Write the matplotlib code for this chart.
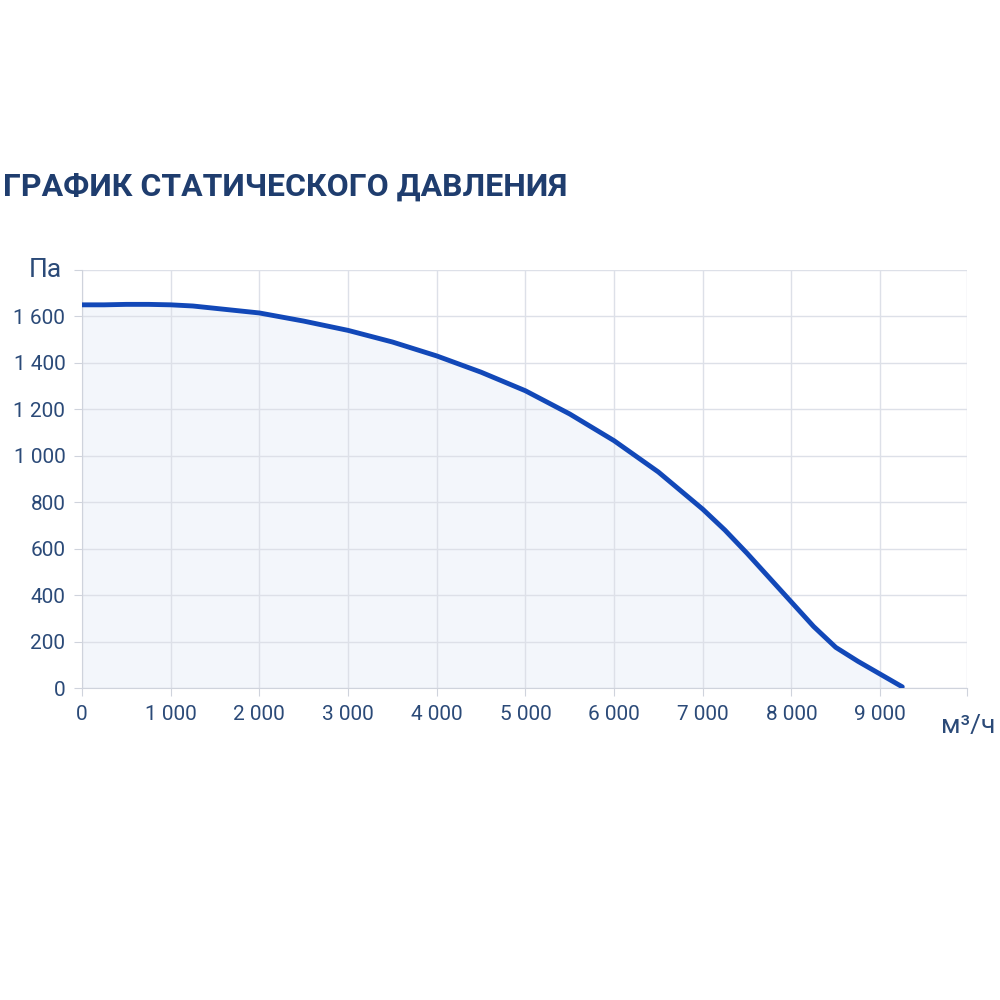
import matplotlib
matplotlib.use("Agg")
import matplotlib.pyplot as plt

flow = [0, 250, 500, 750, 1000, 1250, 1500, 2000, 2500, 3000, 3500, 4000, 4500, 5000, 5500, 6000, 6500, 7000, 7250, 7500, 7750, 8000, 8250, 8500, 8750, 9000, 9250]
pressure = [1650, 1650, 1652, 1652, 1650, 1645, 1635, 1615, 1580, 1540, 1490, 1430, 1360, 1280, 1180, 1065, 930, 770, 680, 580, 475, 370, 265, 175, 115, 60, 5]
xticks = [0, 1000, 2000, 3000, 4000, 5000, 6000, 7000, 8000, 9000]
yticks = [0, 200, 400, 600, 800, 1000, 1200, 1400, 1600]

def fmt(v):
    return f"{v:,}".replace(",", " ")

plt.rcParams['font.family'] = ['Roboto', 'DejaVu Sans']
fig = plt.figure(figsize=(10, 10), dpi=100)
fig.patch.set_facecolor('white')
ax = fig.add_axes([0.082, 0.312, 0.885, 0.418])
ax.set_xlim(0, 9980)
ax.set_ylim(0, 1800)
ax.set_facecolor('white')
ax.fill_between(flow, pressure, color='#f3f6fb', zorder=1)
ax.plot(flow, pressure, color='#1248b8', lw=3.5, zorder=3, solid_capstyle='round', solid_joinstyle='round')
ax.set_xticks(xticks + [9980])
ax.set_xticklabels([fmt(v) for v in xticks] + [''])
ax.set_yticks(yticks + [1800])
ax.set_yticklabels([fmt(v) for v in yticks] + [''])
ax.grid(True, color='#dde0e8', lw=1, zorder=0)
for s in ['top', 'right']:
    ax.spines[s].set_visible(False)
for s in ['left', 'bottom']:
    ax.spines[s].set_color('#cfd3dc')
ax.tick_params(colors='#cfd3dc', labelcolor='#2b4a78', labelsize=15, length=6, pad=6)
fig.text(0.003, 0.813, 'ГРАФИК СТАТИЧЕСКОГО ДАВЛЕНИЯ', fontsize=23, fontweight='semibold', color='#1f3d6e', va='center')
fig.text(0.045, 0.73, 'Па', fontsize=19, color='#2b4a78', ha='center', va='center')
fig.text(0.968, 0.274, 'м³/ч', fontsize=19, color='#2b4a78', ha='center', va='center')
fig.savefig('out.png', dpi=100)
